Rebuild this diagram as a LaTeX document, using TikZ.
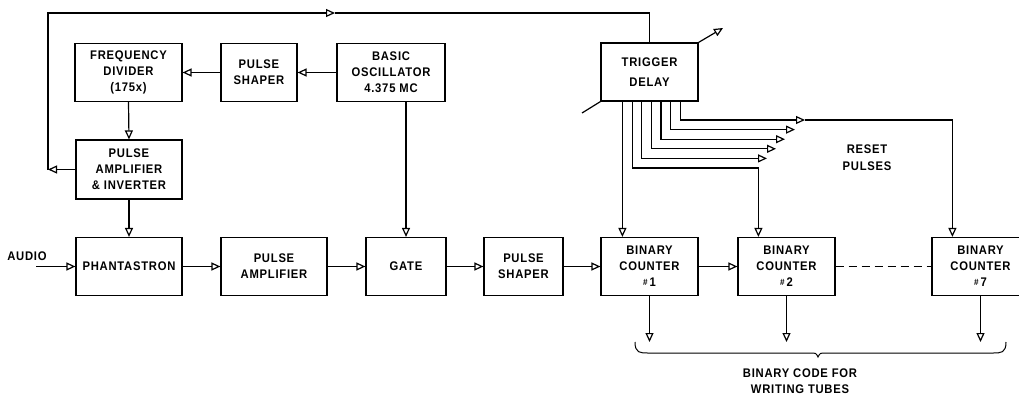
\documentclass[tikz,border=0pt]{standalone}
\usepackage{fontspec}
\newfontfamily\lett[FakeStretch=0.9,LetterSpace=6]{Liberation Sans}
\usetikzlibrary{arrows.meta,calc}
\begin{document}
\begin{tikzpicture}[x=1pt,y=-1pt,line width=1.2pt,
  txt/.style={font=\lett\bfseries\fontsize{12.5}{16}\selectfont},
  blk/.style={draw, rectangle, inner sep=0pt, align=center, txt, minimum height=58pt},
  arr/.style={-{Triangle[open,length=9pt,width=8pt]}},
  lbl/.style={inner sep=0pt, align=center, txt}]
\useasboundingbox (0,0) rectangle (1019,396);
% top row
\node[blk, minimum width=107pt] (fd) at (128.5,72.5) {FREQUENCY\\DIVIDER\\(175x)};
\node[blk, minimum width=76pt] (ps1) at (259,72.5) {PULSE\\SHAPER};
\node[blk, minimum width=108pt] (osc) at (391,72.5) {BASIC\\OSCILLATOR\\4.375 MC};
\node[blk, minimum width=97pt, font=\lett\bfseries\fontsize{12.5}{20}\selectfont] (td) at (649.5,72) {TRIGGER\\DELAY};
\node[blk, minimum width=106pt, minimum height=59pt] (pai) at (129,169.5) {PULSE\\AMPLIFIER\\\& INVERTER};
% bottom row
\node[blk, minimum width=106pt] (ph) at (129,266.5) {PHANTASTRON};
\node[blk, minimum width=106pt] (pa) at (274,266.5) {PULSE\\AMPLIFIER};
\node[blk, minimum width=80pt] (gate) at (406,266.5) {GATE};
\node[blk, minimum width=79pt] (ps2) at (523.5,266.5) {PULSE\\SHAPER};
\node[blk, minimum width=97pt] (bc1) at (649.5,266.5) {BINARY\\COUNTER\\\raisebox{1.5pt}{\small\#}\,1};
\node[blk, minimum width=97pt] (bc2) at (786.5,266.5) {BINARY\\COUNTER\\\raisebox{1.5pt}{\small\#}\,2};
\node[blk, minimum width=97pt] (bc7) at (980.5,266.5) {BINARY\\COUNTER\\\raisebox{1.5pt}{\small\#}\,7};
% labels
\node[lbl] (audio) at (27,256) {AUDIO};
\node[lbl, font=\lett\bfseries\fontsize{12.5}{17}\selectfont] (reset) at (867,158) {RESET\\PULSES};
\node[lbl, anchor=north, font=\lett\bfseries\fontsize{12.5}{16}\selectfont] (code) at (800,368) {BINARY CODE FOR\\WRITING TUBES};
% top row connectors
\draw[arr] (osc.west) -- (ps1.east);
\draw[arr] (ps1.west) -- (fd.east);
\draw[arr] (fd.south) -- (pai.north);
\draw[arr] (pai.south) -- (ph.north);
\draw[arr] (osc.south -| gate.north) -- (gate.north);
% feedback loop to trigger delay
\coordinate (fbc) at (48,13);
\coordinate (fba) at (335,13);
\draw[arr] (pai.west) -- (pai.west -| fbc);
\draw[arr] (pai.west -| fbc) -- (fbc) -- (fba);
\draw (fba) -| (td.north);
% trigger delay free lines
\coordinate (dl) at (582,113);
\coordinate (ur) at (723,28);
\draw (td.south west) -- (dl);
\draw[arr] (td.north east) -- (ur);
% bottom row connectors
\coordinate (ain) at (36,266.5);
\draw[arr] (ain) -- (ph.west);
\draw[arr] (ph.east) -- (pa.west);
\draw[arr] (pa.east) -- (gate.west);
\draw[arr] (gate.east) -- (ps2.west);
\draw[arr] (ps2.east) -- (bc1.west);
\draw[arr] (bc1.east) -- (bc2.west);
\draw[dash pattern=on 8pt off 5pt] (bc2.east) -- (bc7.west);
% reset pulses
\coordinate (s0) at ($(td.south west)+(22,0)$);
\coordinate (in1) at ($(bc1.north west)+(22,0)$);
\coordinate (in2) at ($(bc2.north west)+(21,0)$);
\coordinate (in7) at ($(bc7.north west)+(21,0)$);
\draw[arr] (s0) -- (in1);
\coordinate (s1) at ($(td.south west)+(31.7,0)$);
\coordinate (y1) at (0,168);
\draw[arr] (s1) -- (s1 |- y1) -| (in2);
\foreach \i/\tx in {2/767,3/776,4/785,5/795}{
  \coordinate (s\i) at ($(td.south west)+({22+9.67*\i},0)$);
  \coordinate (r\i) at (\tx,{168-9.6*(\i-1)});
  \draw[arr] (s\i) |- (r\i);
}
\coordinate (s6) at ($(td.south west)+(80,0)$);
\coordinate (r6) at (805,120);
\draw[arr] (s6) |- (r6);
\draw[arr] (r6) -| (in7);
% outputs
\coordinate (oy) at (0,342);
\draw[arr] (bc1.south) -- (bc1.south |- oy);
\draw[arr] (bc2.south) -- (bc2.south |- oy);
\draw[arr] (bc7.south) -- (bc7.south |- oy);
% brace
\draw[line width=1pt] (635,342) .. controls (635,353) and (640,353) .. (648,353) -- (810,353) .. controls (816,353) .. (818,357) .. controls (820,353) .. (826,353) -- (993,353) .. controls (1001,353) and (1006,353) .. (1006,342);
\end{tikzpicture}
\end{document}
